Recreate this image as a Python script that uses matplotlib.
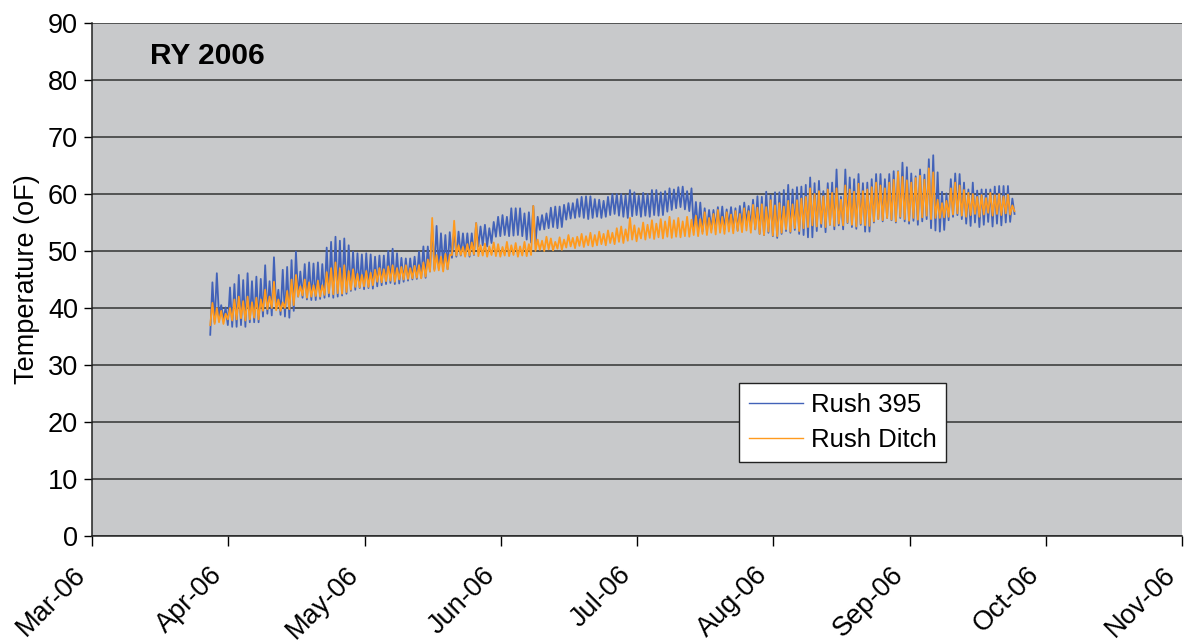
import matplotlib
matplotlib.use("Agg")
import matplotlib.pyplot as plt
from matplotlib.transforms import ScaledTranslation
import numpy as np

plt.rcParams['font.family'] = ['Liberation Sans', 'DejaVu Sans']

# ---- data ----
title = "RY 2006"
y_label = "Temperature (oF)"
series_names = ["Rush 395", "Rush Ditch"]
month_labels = ["Mar-06", "Apr-06", "May-06", "Jun-06", "Jul-06",
                "Aug-06", "Sep-06", "Oct-06", "Nov-06"]
days_per_major = 31          # axis major unit (days)
first_reading_day = 26.9     # days after Mar 1 of first logged reading
y_ticks = [0, 10, 20, 30, 40, 50, 60, 70, 80, 90]

# Daily maxima / minima, Rush 395 (deg F)
b_max = [44.5, 46.1, 40.5, 40.1, 43.6, 44.2, 45.8, 44.9, 46.1, 44.7,
         45.5, 45.1, 47.5, 44.7, 48.9, 43.2, 46.7, 47.2, 48.4, 49.9,
         46.4, 47.7, 48.0, 47.8, 48.0, 47.7, 50.6, 51.6, 52.5, 51.8,
         52.2, 51.0, 49.9, 49.6, 49.4, 49.6, 49.4, 49.0, 49.2, 49.2,
         50.0, 50.4, 49.6, 48.8, 48.7, 48.7, 49.0, 49.9, 50.8, 50.8,
         54.6, 54.4, 53.1, 52.8, 53.3, 53.7, 53.4, 53.1, 53.1, 53.1,
         54.9, 54.3, 54.6, 54.0, 55.1, 56.0, 56.3, 56.0, 57.5, 57.5,
         57.5, 56.6, 56.8, 57.9, 56.0, 56.3, 56.6, 57.6, 57.8, 57.8,
         58.1, 58.4, 58.4, 59.1, 59.5, 59.6, 59.6, 59.1, 59.0, 58.8,
         59.5, 60.0, 60.0, 60.0, 59.8, 60.7, 60.3, 59.7, 60.2, 60.0,
         60.7, 60.7, 60.3, 60.5, 61.0, 60.8, 61.2, 61.3, 60.5, 61.0,
         58.6, 58.5, 57.5, 57.2, 57.2, 57.7, 57.8, 57.3, 57.7, 57.5,
         57.9, 58.5, 57.9, 59.0, 59.6, 59.5, 60.4, 59.8, 60.3, 60.3,
         60.7, 61.6, 60.8, 61.2, 61.3, 61.6, 62.9, 61.9, 62.3, 60.5,
         61.9, 62.0, 64.3, 59.5, 64.3, 62.9, 62.6, 63.5, 61.9, 62.0,
         62.6, 63.5, 63.5, 62.6, 63.5, 64.0, 64.0, 65.5, 64.7, 63.6,
         63.1, 64.3, 63.4, 66.1, 66.8, 63.8, 60.4, 60.1, 62.6, 63.6,
         63.5, 62.0, 60.8, 62.0, 60.6, 60.8, 60.8, 60.8, 61.3, 61.4,
         61.4, 61.4, 59.2]
b_min = [35.3, 37.5, 38.5, 38.0, 37.0, 36.7, 36.7, 37.0, 36.7, 37.5,
         37.5, 37.5, 38.5, 39.0, 38.7, 40.0, 38.8, 38.5, 38.3, 39.5,
         42.0, 41.8, 41.5, 41.4, 41.4, 41.6, 41.8, 42.0, 41.8, 42.0,
         42.2, 42.5, 43.0, 43.2, 43.5, 43.3, 43.5, 43.4, 43.8, 44.0,
         44.2, 44.4, 44.2, 44.3, 44.6, 44.8, 45.0, 45.1, 45.3, 45.3,
         46.4, 46.8, 47.0, 47.2, 46.8, 48.8, 49.0, 49.2, 49.3, 49.0,
         49.3, 50.8, 51.0, 50.8, 51.4, 52.5, 52.6, 52.8, 52.6, 52.7,
         52.8, 52.6, 52.0, 51.5, 51.3, 53.7, 53.8, 54.0, 54.2, 54.0,
         54.2, 55.5, 55.7, 55.8, 56.0, 55.8, 55.6, 55.8, 56.0, 55.8,
         56.0, 56.3, 56.5, 56.2, 56.0, 55.8, 56.1, 56.3, 56.0, 56.2,
         56.0, 56.3, 56.2, 56.3, 56.9, 57.2, 57.5, 57.7, 57.3, 57.0,
         54.2, 53.8, 53.4, 53.6, 53.8, 54.0, 54.2, 53.8, 54.5, 54.0,
         53.6, 54.3, 55.0, 54.2, 53.8, 53.0, 52.8, 53.2, 52.6, 52.3,
         53.0, 53.5, 53.2, 53.7, 53.0, 52.8, 52.4, 52.4, 53.5, 54.2,
         53.3, 54.6, 53.8, 54.5, 53.8, 54.9, 54.2, 53.9, 54.6, 53.4,
         53.4, 55.0, 55.6, 55.2, 55.8, 55.4, 55.0, 55.8, 55.2, 54.8,
         55.3, 54.6, 55.2, 55.6, 54.0, 53.6, 53.4, 53.7, 55.4, 56.0,
         56.3, 55.6, 54.8, 54.4, 55.0, 54.2, 54.6, 55.1, 54.3, 54.8,
         54.5, 55.0, 55.1, 56.5]

# Daily maxima / minima, Rush Ditch (deg F)
o_max = [40.9, 40.0, 39.5, 39.0, 40.0, 41.5, 42.0, 41.2, 42.0, 41.0,
         41.8, 41.5, 43.2, 42.0, 44.6, 41.5, 41.0, 43.0, 45.0, 45.8,
         43.8, 45.0, 44.5, 44.0, 44.8, 44.0, 46.3, 47.0, 48.0, 47.0,
         47.5, 46.5, 46.8, 46.0, 45.8, 46.5, 46.2, 46.7, 47.0, 46.8,
         47.3, 47.5, 47.0, 47.2, 47.5, 47.0, 47.4, 47.5, 48.0, 48.5,
         55.8, 49.3, 49.0, 49.5, 49.3, 55.3, 51.0, 50.7, 51.2, 51.5,
         54.9, 51.0, 51.3, 50.8, 51.5, 51.2, 50.7, 51.6, 51.0, 51.4,
         50.8, 51.6, 51.2, 57.9, 52.0, 51.8, 52.5, 52.2, 51.6, 52.4,
         52.0, 52.8, 52.3, 52.5, 53.0, 52.6, 53.2, 52.8, 53.4, 53.0,
         53.6, 53.2, 54.0, 54.3, 53.8, 55.8, 54.5, 54.0, 55.0, 54.6,
         55.4, 54.8, 55.6, 55.2, 56.0, 55.4, 55.8, 55.2, 56.0, 55.5,
         56.2, 55.6, 56.8, 55.8, 56.5, 57.2, 56.0, 56.8, 56.4, 57.0,
         56.5, 57.5, 57.0, 58.1, 57.6, 58.2, 57.7, 58.9, 58.0, 58.4,
         57.8, 58.8, 58.2, 58.9, 59.2, 59.5, 61.0, 60.0, 60.5, 59.6,
         60.8, 60.2, 61.0, 59.0, 61.5, 60.8, 60.4, 61.8, 60.5, 60.8,
         61.2, 62.0, 61.5, 61.0, 62.0, 62.5, 63.9, 63.0, 62.4, 62.0,
         62.8, 63.2, 62.5, 64.5, 63.8, 59.0, 58.4, 58.8, 61.0, 62.0,
         61.5, 60.7, 60.2, 60.0, 59.5, 59.8, 59.3, 60.2, 59.8, 60.0,
         59.6, 59.9, 58.0]
o_min = [37.0, 37.2, 37.5, 37.2, 38.0, 37.8, 38.0, 38.2, 37.8, 38.0,
         38.3, 38.0, 39.5, 39.8, 40.0, 39.6, 39.5, 40.0, 39.8, 40.5,
         42.0, 42.2, 41.8, 42.0, 42.1, 42.0, 42.3, 42.6, 42.4, 42.6,
         42.5, 42.8, 43.2, 43.7, 43.6, 43.8, 43.7, 44.0, 44.6, 44.5,
         44.7, 44.8, 44.6, 45.0, 45.0, 45.1, 45.2, 45.3, 45.2, 45.5,
         46.4, 46.5, 46.6, 46.4, 46.8, 49.3, 49.2, 49.3, 49.0, 49.2,
         49.4, 49.1, 49.2, 49.0, 49.3, 49.1, 49.0, 49.2, 49.1, 49.3,
         49.0, 49.2, 49.1, 49.3, 50.0, 50.2, 50.0, 50.3, 50.1, 50.4,
         50.2, 50.6, 50.8, 50.5, 50.9, 50.7, 51.0, 50.8, 51.0, 51.2,
         51.0, 51.4, 51.2, 51.6, 51.4, 51.8, 52.0, 51.7, 52.2, 52.0,
         52.3, 52.1, 52.4, 52.2, 52.5, 52.3, 52.5, 52.4, 52.6, 52.5,
         52.8, 52.6, 53.0, 52.8, 53.2, 52.9, 53.2, 53.0, 53.4, 53.1,
         53.5, 53.3, 53.6, 53.2, 53.8, 53.0, 52.8, 53.4, 52.7, 52.6,
         53.2, 53.8, 53.4, 54.0, 53.5, 54.0, 54.2, 54.5, 54.3, 54.8,
         54.2, 54.6, 54.4, 54.8, 54.5, 55.0, 54.6, 54.3, 54.8, 54.5,
         54.4, 55.2, 55.6, 55.4, 55.8, 55.5, 55.2, 56.0, 55.6, 55.3,
         55.8, 55.5, 55.9, 56.2, 55.6, 55.8, 55.8, 55.9, 56.0, 56.4,
         56.6, 56.2, 56.0, 56.3, 56.5, 56.0, 56.4, 56.7, 56.2, 56.5,
         56.3, 56.6, 56.4, 57.0]

colors = ["#4262B8", "#FF9A1E"]


def build_series(mins, maxs, start):
    """Interleave daily min (early) and max (afternoon) readings in time."""
    t, v = [], []
    for k in range(len(mins)):
        t.append(start + k)
        v.append(mins[k])
        if k < len(maxs):
            t.append(start + k + 0.5)
            v.append(maxs[k])
    return np.array(t), np.array(v)


fig = plt.figure(figsize=(11.88, 6.44), dpi=100)
ax = fig.add_axes([92 / 1188, 1 - 536 / 644, 1090 / 1188, 513 / 644])
ax.set_facecolor("#C8C9CB")

tb, vb = build_series(b_min, b_max, first_reading_day)
to, vo = build_series(o_min, o_max, first_reading_day)
ax.plot(tb, vb, color=colors[0], lw=1.3, label=series_names[0], zorder=3)
ax.plot(to, vo, color=colors[1], lw=1.3, label=series_names[1], zorder=4)

n_months = len(month_labels)
xt = [i * days_per_major for i in range(n_months)]
ax.set_xlim(xt[0], xt[-1])
ax.set_xticks(xt)
ax.set_xticklabels([])
# rotated month labels, anchored below each tick
lab_tr = ax.get_xaxis_transform() + ScaledTranslation(-10 / 100, -35 / 100,
                                                      fig.dpi_scale_trans)
for x, lab in zip(xt, month_labels):
    ax.text(x, 0, lab, transform=lab_tr, rotation=45, rotation_mode="anchor",
            ha="right", va="center", fontsize=19.5, clip_on=False)

ax.set_ylim(y_ticks[0], y_ticks[-1])
ax.set_yticks(y_ticks)
ax.set_yticklabels([str(v) for v in y_ticks], fontsize=19.5)
ax.grid(axis="y", color="#333333", lw=1.1, zorder=1)
ax.set_axisbelow(True)
ax.tick_params(axis="x", direction="out", length=7, width=1)
ax.tick_params(axis="y", direction="out", length=6, width=1, pad=4)
for s in ["top", "right"]:
    ax.spines[s].set_visible(False)
for s in ["left", "bottom"]:
    ax.spines[s].set_color("#222222")
    ax.spines[s].set_linewidth(1.1)

ax.set_ylabel(y_label, fontsize=19.5, labelpad=6)
ax.text(0.053, 0.935, title, transform=ax.transAxes, fontsize=21.5,
        fontweight="bold", va="center", ha="left")

leg = ax.legend(loc="lower left", bbox_to_anchor=(0.594, 0.144), fontsize=18.5,
                frameon=True, fancybox=False, framealpha=1, edgecolor="#222222",
                handlelength=2.1, borderpad=0.38, labelspacing=0.45,
                handletextpad=0.3, borderaxespad=0)
leg.get_frame().set_linewidth(1.0)
for line in leg.get_lines():
    line.set_linewidth(1.0)

fig.savefig("out.png", dpi=100, facecolor="white")
